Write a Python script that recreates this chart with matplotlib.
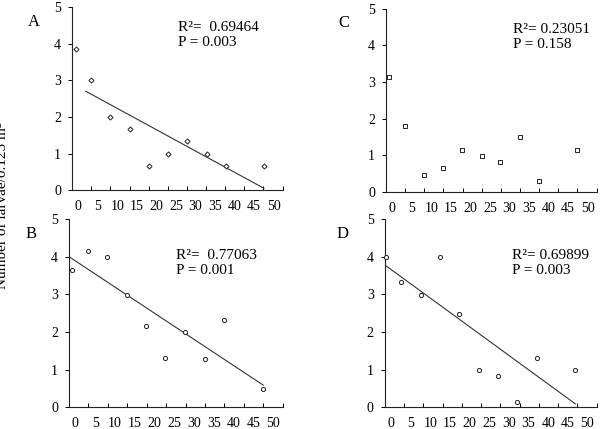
import numpy as np
import matplotlib
matplotlib.use('Agg')
import matplotlib.pyplot as plt

plt.rcParams['font.family'] = ['Liberation Serif', 'DejaVu Serif']

# values
xa = [-0.6, 3.3, 8.2, 13.1, 18.1, 23.0, 27.9, 32.9, 37.8, 47.5]
ya = [3.85, 3.01, 2.01, 1.67, 0.67, 1.00, 1.34, 1.00, 0.67, 0.67]

xb = [-0.8, 3.1, 8.0, 12.9, 17.9, 22.7, 27.7, 32.6, 37.5, 47.4]
yb = [3.65, 4.16, 3.99, 2.99, 2.15, 1.31, 1.99, 1.28, 2.32, 0.49]

xc = [-0.8, 3.2, 8.1, 13.0, 17.9, 22.9, 27.7, 32.7, 37.6, 47.4]
yc = [3.15, 1.81, 0.48, 0.65, 1.15, 0.98, 0.81, 1.49, 0.31, 1.15]

xd = [-1.3, 2.6, 7.5, 12.4, 17.3, 22.3, 27.2, 32.1, 37.1, 46.9]
yd = [4.00, 3.33, 2.99, 4.00, 2.49, 0.99, 0.82, 0.14, 1.31, 0.99]

stats = {'A': ('R²=  0.69464', 'P = 0.003'),
         'B': ('R²=  0.77063', 'P = 0.001'),
         'C': ('R²= 0.23051', 'P = 0.158'),
         'D': ('R²= 0.69899', 'P = 0.003')}

xlabels = [0, 5, 10, 15, 20, 25, 30, 35, 40, 45, 50]
xmarks = [3.3, 8.2, 13.1, 18.0, 22.9, 27.8, 32.7, 37.6, 42.5, 47.4, 52.3]

fig = plt.figure(figsize=(6.06, 4.29), dpi=100)

panels = [
    ('A', xa, ya, 'D', 1.9, [0.119, 0.556, 0.348, 0.428]),
    ('C', xc, yc, 's', None, [0.637, 0.552, 0.348, 0.428]),
    ('B', xb, yb, 'o', -1.3, [0.114, 0.051, 0.353, 0.438]),
    ('D', xd, yd, 'o', -1.4, [0.635, 0.051, 0.350, 0.438]),
]

for name, x, y, mk, x0, pos in panels:
    ax = fig.add_axes(pos)
    ax.plot(x, y, linestyle='none', marker=mk, ms=2.6 if mk == 'D' else 3.0,
            mfc='white', mec='#222222', mew=0.7, zorder=3, clip_on=False)
    if x0 is not None:
        k, b = np.polyfit(x, y, 1)
        xx = np.array([x0, max(x)])
        ax.plot(xx, k * xx + b, color='#333333', lw=0.8)
    ax.set_xlim(-1.6, 52.4)
    ax.set_ylim(0, 5)
    for s in ['top', 'right']:
        ax.spines[s].set_visible(False)
    for s in ['left', 'bottom']:
        ax.spines[s].set_linewidth(0.8)
        ax.spines[s].set_color('#222222')
    ax.set_xticks(xlabels)
    ax.set_xticklabels([str(v) for v in xlabels])
    ax.tick_params(axis='x', length=0, pad=7, labelsize=10)
    ax.set_xticks(xmarks, minor=True)
    ax.tick_params(axis='x', which='minor', direction='in', length=3, width=0.7)
    ax.set_yticks(range(6))
    ax.tick_params(axis='y', direction='out', length=3, width=0.7, pad=5, labelsize=10)
    xt = 0.50 if name in 'AB' else 0.60
    yt = 0.886 if name in 'AC' else 0.809
    ax.text(xt, yt, stats[name][0], transform=ax.transAxes, fontsize=11, va='center')
    ax.text(xt, yt - 0.081, stats[name][1], transform=ax.transAxes, fontsize=11, va='center')
    ax.text(-0.18 if name in 'AB' else -0.2, 0.92, name, transform=ax.transAxes,
            fontsize=12, va='center', ha='center')

fig.text(0.004, 0.52, 'Number of larvae/0.125 m²', rotation=90, fontsize=11,
         va='center', ha='center')

fig.savefig('out.png', dpi=100)
